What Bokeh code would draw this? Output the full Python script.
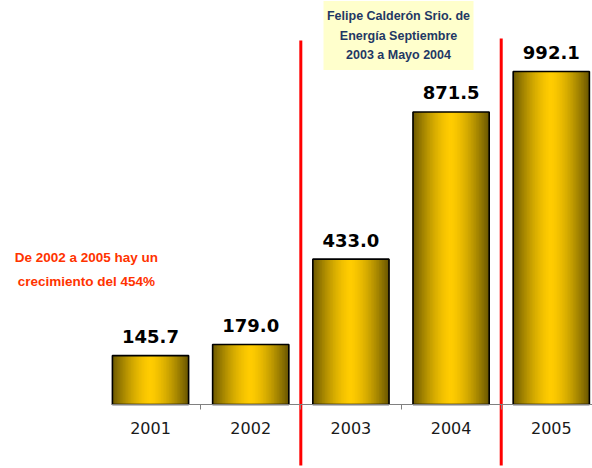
from bokeh.plotting import figure
from bokeh.models import LinearAxis, FixedTicker, ColumnDataSource, Range1d
from bokeh.core.properties import value
from bokeh.embed import file_html
from bokeh.resources import INLINE

years = ["2001", "2002", "2003", "2004", "2005"]
amounts = [145.7, 179.0, 433.0, 871.5, 992.1]
labels = ["145.7", "179.0", "433.0", "871.5", "992.1"]
note_text = "Felipe Calderón Srio. de\nEnergía Septiembre\n2003 a Mayo 2004"
growth_text = "De 2002 a 2005 hay un\ncrecimiento del 454%"
period_bounds = [1.5, 3.5]

p = figure(width=592, height=468, output_backend="svg", toolbar_location=None,
           x_range=Range1d(-1.497, 4.411), y_range=Range1d(-190.6, 1203.5),
           x_axis_location=None, y_axis_location=None, min_border=0)
p.outline_line_color = None
p.grid.visible = False
p.background_fill_color = "white"
p.border_fill_color = "white"

# gradient bars built from strips
bar_w = 0.76
N = 48
gx, gtop, gcol = [], [], []
gold = (255, 204, 0)
dark = (105, 86, 0)
for i, v in enumerate(amounts):
    for k in range(N):
        off = -bar_w / 2 + (k + 0.5) * bar_w / N
        t = abs(off) / (bar_w / 2)
        t = t ** 1.5
        c = tuple(int(round(gold[j] + (dark[j] - gold[j]) * t)) for j in range(3))
        gx.append(i + off)
        gtop.append(v)
        gcol.append("#%02x%02x%02x" % c)
p.vbar(x=gx, top=gtop, bottom=0, width=bar_w / N * 1.6, fill_color=gcol, line_color=None)

idx = list(range(len(years)))
src = ColumnDataSource(dict(x=idx, top=amounts, lab=labels))
p.vbar(x="x", top="top", bottom=0, width=bar_w, source=src, fill_color=None,
       line_color="black", line_width=1.6)
p.text(x="x", y="top", text="lab", source=src, text_align="center", text_baseline="alphabetic",
       y_offset=-19, text_font=value("DejaVu Sans"), text_font_size="18px",
       text_font_style="bold", text_color="black")

# axis
ax = LinearAxis(fixed_location=0, ticker=FixedTicker(ticks=idx, minor_ticks=[0.5, 1.5, 2.5, 3.5]))
ax.major_label_overrides = {i: y for i, y in enumerate(years)}
ax.bounds = (-0.39, 4.5)
ax.axis_line_color = "#808080"
ax.axis_line_width = 1
ax.major_tick_line_color = None
ax.minor_tick_line_color = "#808080"
ax.minor_tick_in = 0
ax.minor_tick_out = 5
ax.major_label_standoff = 11
ax.major_label_text_font = "DejaVu Sans"
ax.major_label_text_font_size = "16px"
ax.major_label_text_color = "#1a1a1a"
p.add_layout(ax, "below")

# red vertical period lines
p.segment(x0=period_bounds, x1=period_bounds, y0=[1084, 1090], y1=[-182, -182],
          line_color="#ff0000", line_width=3)

# note box
p.rect(x=[2.475], y=[1099], width=150, height=69, width_units="screen", height_units="screen",
       fill_color="#ffffcc", line_color=None)
p.text(x=[2.475], y=[1099], text=[note_text], text_align="center", text_baseline="middle",
       text_font=value("Liberation Sans"), text_font_size="12.5px", text_font_style="bold",
       text_color="#1f3864", text_line_height=1.4)

# growth note
p.text(x=[-0.64], y=[403], text=[growth_text], text_align="center", text_baseline="middle",
       text_font=value("Liberation Sans"), text_font_size="13.5px", text_font_style="bold",
       text_color="#ff3300", text_line_height=1.6)

open("out.html", "w").write(file_html(p, INLINE))
